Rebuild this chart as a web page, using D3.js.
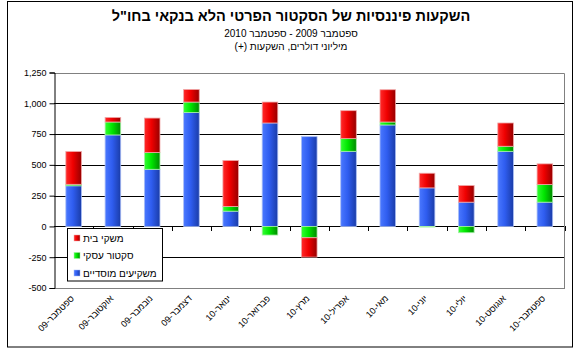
<!DOCTYPE html>
<html><head><meta charset="utf-8">
<script src="https://cdn.jsdelivr.net/npm/d3@7"></script>
<style>
html,body{margin:0;padding:0;background:#fff;}
text{font-family:Arial,"Liberation Sans","DejaVu Sans",sans-serif;}
</style>
</head><body>
<svg id="chart" width="581" height="355"></svg>
<script>
const categories = ["ספטמבר-09","אוקטובר-09","נובמבר-09","דצמבר-09","ינואר-10","פברואר-10","מרץ-10","אפריל-10","מאי-10","יוני-10","יולי-10","אוגוסט-10","ספטמבר-10"];
const institutional = [330, 743, 464, 926, 124, 840, 729, 610, 824, 313, 197, 610, 197];
const business      = [12, 105, 136, 84, 38, -70, -92, 103, 24, -5, -51, 41, 143];
const households    = [266, 37, 280, 102, 373, 170, -157, 227, 262, 119, 135, 189, 168];
const seriesNames = ["משקיעים מוסדיים","סקטור עסקי","משקי בית"];
const yTicks = [-500,-250,0,250,500,750,1000,1250];
const titleText = "השקעות פיננסיות של הסקטור הפרטי הלא בנקאי בחו\"ל";
const subtitleText = "ספטמבר 2009 - ספטמבר 2010";
const unitText = "מיליוני דולרים, השקעות (+)";

// right-to-left embedding so neutral characters follow Hebrew order
const rtl = s => "\u202B" + s + "\u202C";

const svg = d3.select("#chart");
const plot = {left: 54, right: 564.5, top: 72.5, bottom: 288};

// outer border
svg.append("rect").attr("x",7.5).attr("y",1.5).attr("width",565).attr("height",345.5)
  .attr("fill","#fff").attr("stroke","#000").attr("stroke-width",1);

// titles
svg.append("text").attr("x",291).attr("y",21).attr("text-anchor","middle")
  .attr("font-size","14.5px").attr("font-weight","bold").text(rtl(titleText));
svg.append("text").attr("x",291).attr("y",37).attr("text-anchor","middle")
  .attr("font-size","10px").text(rtl(subtitleText));
svg.append("text").attr("x",291).attr("y",50).attr("text-anchor","middle")
  .attr("font-size","10px").text(rtl(unitText));

const x = d3.scaleBand().domain(categories).range([plot.left, plot.right]).paddingInner(0.6).paddingOuter(0.3);
const y = d3.scaleLinear().domain([-500,1250]).range([plot.bottom, plot.top]);

// gradients
const defs = svg.append("defs");
const grads = [
  {id:"gBlue", c:["#4a78ff","#2f5df0","#1a3ca8"]},
  {id:"gGreen", c:["#33ff33","#00e600","#008a00"]},
  {id:"gRed", c:["#ff2a2a","#f00000","#960000"]}
];
grads.forEach(g=>{
  const lg = defs.append("linearGradient").attr("id",g.id).attr("x1","0").attr("x2","1").attr("y1","0").attr("y2","0");
  lg.append("stop").attr("offset","0%").attr("stop-color",g.c[0]);
  lg.append("stop").attr("offset","45%").attr("stop-color",g.c[1]);
  lg.append("stop").attr("offset","100%").attr("stop-color",g.c[2]);
});
const fills = ["url(#gBlue)","url(#gGreen)","url(#gRed)"];
const edge = ["#a9bdf5","#a6f0a6","#f0a6a6"];

// gridlines
svg.append("g").selectAll("line").data(yTicks.filter(t=>t!==1250)).join("line")
  .attr("x1",plot.left).attr("x2",plot.right)
  .attr("y1",d=>Math.round(y(d))+0.5).attr("y2",d=>Math.round(y(d))+0.5)
  .attr("stroke","#000").attr("stroke-width",1);

// plot border (top, right, bottom) gray
svg.append("path")
  .attr("d",`M${plot.left},${Math.round(plot.top)+0.5}H${plot.right}V${Math.round(plot.bottom)+0.5}H${plot.left}`)
  .attr("fill","none").attr("stroke","#808080").attr("stroke-width",1);

// stacked bars
const rows = categories.map((c,i)=>({cat:c, s0:institutional[i], s1:business[i], s2:households[i]}));
const stack = d3.stack().keys(["s0","s1","s2"]).offset(d3.stackOffsetDiverging);
const series = stack(rows);
const bw = 15.6;
series.forEach((s,si)=>{
  svg.append("g").selectAll("rect").data(s).join("rect")
    .attr("x",d=>x(d.data.cat)+x.bandwidth()/2-bw/2)
    .attr("width",bw)
    .attr("y",d=>y(Math.max(d[0],d[1])))
    .attr("height",d=>Math.abs(y(d[0])-y(d[1])))
    .attr("fill",fills[si])
    .attr("stroke",edge[si]).attr("stroke-width",0.8);
});

// y axis
const yAxis = d3.axisLeft(y).tickValues(yTicks).tickSize(5).tickPadding(3)
  .tickFormat(d=>d3.format(",")(d).replace("−","-"));
const yg = svg.append("g").attr("transform",`translate(${plot.left+0.5},0)`).call(yAxis);
yg.select(".domain").attr("stroke","#000");
yg.selectAll(".tick line").attr("stroke","#000");
yg.selectAll(".tick text").attr("font-size","9px").attr("fill","#000")
  .attr("font-family","Arial,'Liberation Sans',sans-serif");

// x axis ticks at zero line (band boundaries)
const bounds = d3.range(categories.length+1).map(i=>plot.left + i*(plot.right-plot.left)/categories.length);
svg.append("g").selectAll("line").data(bounds.slice(1)).join("line")
  .attr("x1",d=>Math.round(d)+0.5).attr("x2",d=>Math.round(d)+0.5)
  .attr("y1",Math.round(y(0))).attr("y2",Math.round(y(0))+5)
  .attr("stroke","#000");

// x labels
svg.append("g").selectAll("text").data(categories).join("text")
  .attr("transform",d=>`translate(${x(d)+x.bandwidth()/2+1},${plot.bottom+11}) rotate(-45)`)
  .attr("text-anchor","end")
  .attr("font-size","9px")
  .text(d=>rtl(d));

// legend
const lg = svg.append("g");
lg.append("rect").attr("x",67.5).attr("y",228.5).attr("width",95).attr("height",52.5)
  .attr("fill","#fff").attr("stroke","#000").attr("stroke-width",1);
const legendItems = [
  {name:seriesNames[2], i:2, y:238},
  {name:seriesNames[1], i:1, y:255.5},
  {name:seriesNames[0], i:0, y:273}
];
legendItems.forEach(it=>{
  lg.append("rect").attr("x",74).attr("y",it.y-3).attr("width",6).attr("height",6)
    .attr("fill",fills[it.i]).attr("stroke",edge[it.i]).attr("stroke-width",0.5);
  lg.append("text").attr("x",83).attr("y",it.y+3.5).attr("font-size","10px")
    .attr("text-anchor","start").text(rtl(it.name));
});
</script>
</body></html>
